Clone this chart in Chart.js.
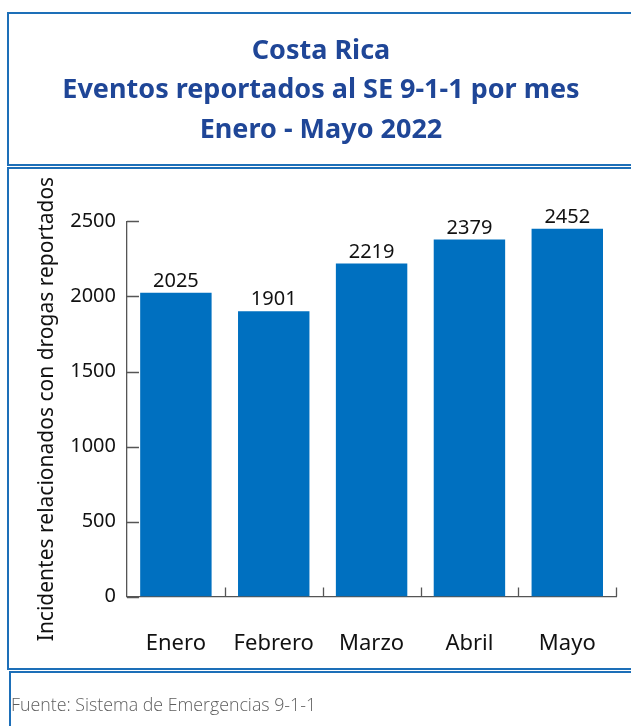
<!DOCTYPE html>
<html lang="es">
<head>
<meta charset="utf-8">
<title>Costa Rica - Eventos reportados al SE 9-1-1 por mes</title>
<script src="https://cdn.jsdelivr.net/npm/chart.js@4.4.0/dist/chart.umd.min.js"></script>
<style>
  html, body { margin: 0; padding: 0; background: #fff; }
  #wrap { position: relative; width: 631px; height: 726px; overflow: hidden; }
  #chart { position: absolute; left: 0; top: 0; }
  .box { position: absolute; border-style: solid; border-color: #1d6fb8; pointer-events: none; }
  #titleBox { left: 7px; top: 12px; width: 640px; height: 150px; border-width: 2px 0 2px 2px; }
  #chartBox { left: 7px; top: 167px; width: 640px; height: 499px; border-width: 2px 0 2px 2px; }
  #footBox { left: 9px; top: 671px; width: 640px; height: 80px; border-width: 2px 0 0 2px; }
  #fuente {
    position: absolute; left: 11px; top: 692px;
    font-family: "Open Sans", "Noto Sans", sans-serif; font-weight: 300;
    font-size: 17.8px; color: #5e5e5e; white-space: nowrap;
  }
</style>
</head>
<body>
<div id="wrap">
  <canvas id="chart" width="631" height="726"></canvas>
  <div class="box" id="titleBox"></div>
  <div class="box" id="chartBox"></div>
  <div class="box" id="footBox"></div>
  <div id="fuente">Fuente: Sistema de Emergencias 9-1-1</div>
</div>
<script>
// datos
const meses = ['Enero', 'Febrero', 'Marzo', 'Abril', 'Mayo'];
const incidentes = [2025, 1901, 2219, 2379, 2452];
const yTicks = [0, 500, 1000, 1500, 2000, 2500];
const titulo = ['Costa Rica', 'Eventos reportados al SE 9-1-1 por mes', 'Enero - Mayo 2022'];
const tituloEjeY = 'Incidentes relacionados con drogas reportados';

const axisColor = '#555555';
Chart.defaults.font.family = '"Noto Sans", sans-serif';
Chart.defaults.color = '#111111';

// rotulos de valor sobre las barras
const valueLabels = {
  id: 'valueLabels',
  afterDatasetsDraw(chart) {
    const ctx = chart.ctx;
    const meta = chart.getDatasetMeta(0);
    ctx.save();
    ctx.font = '20px "Noto Sans"';
    ctx.fillStyle = '#111111';
    ctx.textAlign = 'center';
    ctx.textBaseline = 'alphabetic';
    meta.data.forEach((bar, i) => {
      ctx.fillText(String(incidentes[i]), bar.x, bar.y - 6);
    });
    ctx.restore();
  }
};

// marcas de los ejes hacia adentro
const innerTicks = {
  id: 'innerTicks',
  afterDraw(chart) {
    const ctx = chart.ctx;
    const area = chart.chartArea;
    const x = chart.scales.x, y = chart.scales.y;
    ctx.save();
    ctx.strokeStyle = axisColor;
    ctx.lineWidth = 1.3;
    ctx.beginPath();
    y.ticks.forEach(t => {
      const py = Math.round(y.getPixelForValue(t.value)) + 0.5;
      ctx.moveTo(area.left, py);
      ctx.lineTo(area.left + 12, py);
    });
    for (let i = 0; i < meses.length; i++) {
      const px = i < meses.length - 1
        ? (x.getPixelForValue(i) + x.getPixelForValue(i + 1)) / 2
        : area.right;
      ctx.moveTo(Math.round(px) + 0.5, area.bottom);
      ctx.lineTo(Math.round(px) + 0.5, area.bottom - 9);
    }
    ctx.stroke();
    ctx.restore();
  }
};

new Chart(document.getElementById('chart'), {
  type: 'bar',
  data: {
    labels: meses,
    datasets: [{
      label: tituloEjeY,
      data: incidentes,
      backgroundColor: '#0070c0',
      borderWidth: 0,
      barPercentage: 0.73,
      categoryPercentage: 1.0
    }]
  },
  options: {
    responsive: false,
    animation: false,
    events: [],
    layout: { padding: { left: 24, right: 13, top: 0, bottom: 35 } },
    plugins: {
      legend: { display: false },
      tooltip: { enabled: false },
      title: {
        display: true,
        text: titulo,
        color: '#1f4697',
        font: { size: 27, weight: 'bold', lineHeight: 1.45 },
        padding: { top: 32, bottom: 72 }
      }
    },
    scales: {
      x: {
        grid: { display: false, drawTicks: false },
        border: { display: true, color: axisColor, width: 1.3 },
        ticks: { font: { size: 22 }, color: '#111111', padding: 34 }
      },
      y: {
        min: 0,
        max: 2500,
        afterBuildTicks: (scale) => { scale.ticks = yTicks.map(v => ({ value: v })); },
        grid: { display: false, drawTicks: false },
        border: { display: true, color: axisColor, width: 1.3 },
        ticks: {
          font: { size: 20 }, color: '#111111', padding: 11,
          callback: (v) => String(v)
        },
        title: {
          display: true,
          text: tituloEjeY,
          color: '#111111',
          font: { size: 21 },
          padding: { top: 10, bottom: 0 }
        }
      }
    }
  },
  plugins: [valueLabels, innerTicks]
});
</script>
</body>
</html>
